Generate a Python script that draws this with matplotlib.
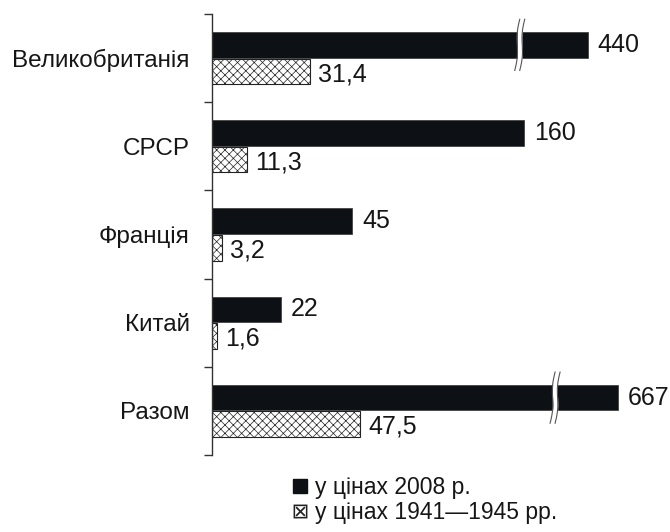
import numpy as np
import matplotlib.pyplot as plt
from matplotlib.lines import Line2D

plt.rcParams['font.family'] = ['Liberation Sans', 'DejaVu Sans']
plt.rcParams['hatch.linewidth'] = 0.5

categories = ['Великобританія', 'СРСР', 'Франція', 'Китай', 'Разом']
prices_2008 = [440, 160, 45, 22, 667]
prices_1941 = [31.4, 11.3, 3.2, 1.6, 47.5]
legend_labels = ['у цінах 2008 р.', 'у цінах 1941—1945 рр.']

# the original axis is not to scale: linear up to ~50, then squeezed (broken bars)
scale_vals = [0, 50, 160, 440, 667, 760]
scale_disp = [0, 156, 312, 376, 406, 455]
# where the long bars get their "break" marks, in values
breaks = {0: 157, 4: 296}


def fwd(x):
    return np.interp(x, scale_vals, scale_disp)


def inv(d):
    return np.interp(d, scale_disp, scale_vals)


bar_color = '#0d1014'
text_color = '#161616'

fig = plt.figure(figsize=(6.7, 5.32), dpi=100)
ax = fig.add_axes([212 / 670, 1 - 455 / 532, 455 / 670, 441 / 532])
ax.set_xscale('function', functions=(fwd, inv))
ax.set_xlim(0, 760)
ax.set_ylim(4.5, -0.5)

y = np.arange(len(categories))
off = 0.15
h = 0.29
ax.barh(y - off, prices_2008, height=h, color=bar_color, edgecolor='#444', linewidth=0.6)
ax.barh(y + off, prices_1941, height=h, color='white', edgecolor='#222',
        hatch='xxxx', linewidth=0.8)

for i in range(len(categories)):
    ax.annotate(str(prices_2008[i]), (prices_2008[i], y[i] - off), xytext=(7, 0),
                textcoords='offset points', va='center', ha='left',
                fontsize=18, color=text_color, annotation_clip=False)
    ax.annotate(str(prices_1941[i]).replace('.', ','), (prices_1941[i], y[i] + off),
                xytext=(6, -2), textcoords='offset points', va='center', ha='left',
                fontsize=18, color=text_color, annotation_clip=False)

# break marks on the long bars
t = np.linspace(-1, 1, 40)
for i, bv in breaks.items():
    xb = fwd(bv)
    yy = y[i] - off + t * 0.29
    shape = -2.5 * t + 1.2 * np.sin(t * np.pi)
    left = inv(xb + shape - 2.5)
    right = inv(xb + shape + 2.5)
    ax.fill_betweenx(yy, left, right, color='white', zorder=3, linewidth=0)
    ax.plot(left, yy, color='#555', lw=0.8, zorder=4)
    ax.plot(right, yy, color='#555', lw=0.8, zorder=4)

for s in ['top', 'right', 'bottom']:
    ax.spines[s].set_visible(False)
ax.spines['left'].set_color('#333')
ax.spines['left'].set_linewidth(1.0)
ax.set_xticks([])
ax.set_yticks(np.arange(-0.5, len(categories), 1))
ax.set_yticklabels([])
ax.set_yticks(y, minor=True)
ax.set_yticklabels(categories, minor=True, fontsize=17.5, color=text_color)
ax.tick_params(axis='y', which='major', length=6, width=1, color='#333')
ax.tick_params(axis='y', which='minor', length=0, pad=16)

handles = [Line2D([], [], linestyle='none', marker='s', markersize=10,
                  color=bar_color),
           Line2D([], [], linestyle='none', marker=r'$\boxtimes$', markersize=10,
                  color='#222', markeredgewidth=0)]
fig.legend(handles, legend_labels, loc='upper left',
           bbox_to_anchor=(291 / 670, 1 - 476 / 532), frameon=False,
           handlelength=0.8, handletextpad=0.25,
           labelspacing=0.1, fontsize=16.5, borderpad=0, borderaxespad=0,
           labelcolor=text_color)

fig.savefig('out.png', dpi=100)
